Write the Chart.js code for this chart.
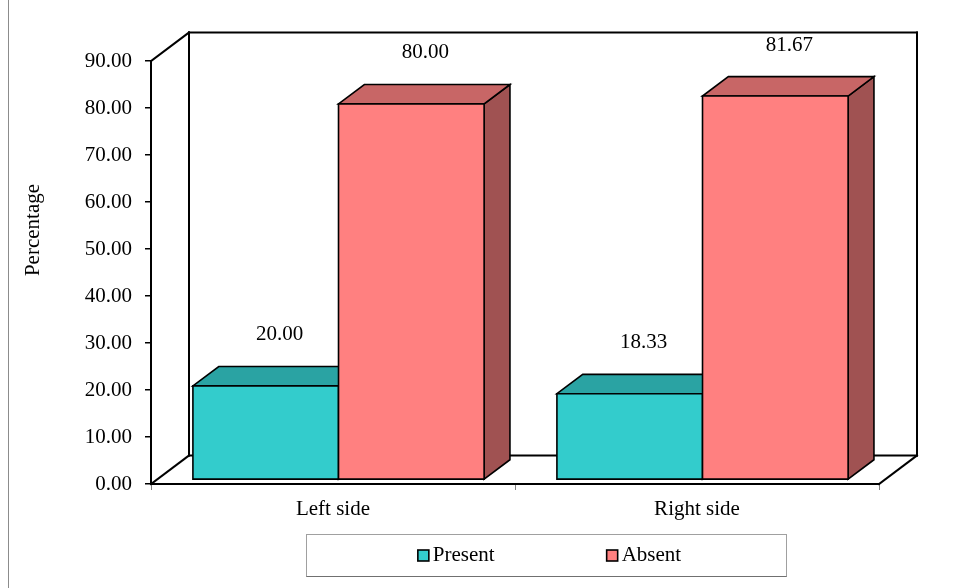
<!DOCTYPE html>
<html>
<head>
<meta charset="utf-8">
<script src="https://cdn.jsdelivr.net/npm/chart.js@4"></script>
<style>
  html, body { margin: 0; padding: 0; background: #ffffff; }
  canvas { display: block; }
</style>
</head>
<body>
<canvas id="chart" width="954" height="588"></canvas>
<script>
// ---- data ----
const categories = ['Left side', 'Right side'];
const seriesNames = ['Present', 'Absent'];
const presentValues = [20.00, 18.33];
const absentValues = [80.00, 81.67];
const yMin = 0, yMax = 90, yStep = 10;
const axisTitle = 'Percentage';

// ---- styling ----
const FONT = "'Liberation Serif', 'Times New Roman', serif";
const FONT_SIZE = 21;
const faceColors = [
  { front: '#33CCCC', top: '#2AA3A3', side: '#208585' },
  { front: '#FF8080', top: '#C86666', side: '#A05252' }
];
// depth of the box (walls / floor) in pixels, and where the bars sit inside it
const DEPTH = { dx: 38, dy: -28.5 };
const BAR_FRONT = 0.145;
const BAR_DEPTH = 0.68;

Chart.defaults.font.family = FONT;
Chart.defaults.font.size = FONT_SIZE;
Chart.defaults.color = '#000000';

function line(ctx, x1, y1, x2, y2) {
  ctx.beginPath();
  ctx.moveTo(x1, y1);
  ctx.lineTo(x2, y2);
  ctx.stroke();
}

function poly(ctx, pts, fill) {
  ctx.beginPath();
  ctx.moveTo(pts[0][0], pts[0][1]);
  for (let i = 1; i < pts.length; i++) ctx.lineTo(pts[i][0], pts[i][1]);
  ctx.closePath();
  ctx.fillStyle = fill;
  ctx.fill();
  ctx.stroke();
}

const box3d = {
  id: 'box3d',
  beforeDatasetsDraw(chart) {
    const { ctx, chartArea: a } = chart;
    const L = a.left, R = a.right, T = a.top, B = a.bottom;
    const dx = DEPTH.dx, dy = DEPTH.dy;
    ctx.save();
    ctx.strokeStyle = '#000000';
    ctx.lineWidth = 2;
    ctx.lineCap = 'square';
    // left wall
    line(ctx, L, T, L, B);
    line(ctx, L, T, L + dx, T + dy);
    line(ctx, L + dx, T + dy, L + dx, B + dy);
    // back wall
    line(ctx, L + dx, T + dy, R + dx, T + dy);
    line(ctx, R + dx, T + dy, R + dx, B + dy);
    // floor
    line(ctx, L, B, R, B);
    line(ctx, L, B, L + dx, B + dy);
    line(ctx, L + dx, B + dy, R + dx, B + dy);
    line(ctx, R, B, R + dx, B + dy);
    ctx.restore();
  },
  beforeDatasetDraw() {
    // the flat bars are replaced by the boxes drawn below
    return false;
  },
  afterDatasetsDraw(chart) {
    const ctx = chart.ctx;
    const ox = DEPTH.dx * BAR_FRONT, oy = DEPTH.dy * BAR_FRONT;
    const bdx = DEPTH.dx * BAR_DEPTH, bdy = DEPTH.dy * BAR_DEPTH;
    const metas = chart.data.datasets.map((_, i) => chart.getDatasetMeta(i));
    const labels = [];
    ctx.save();
    ctx.strokeStyle = '#000000';
    ctx.lineWidth = 1.6;
    ctx.lineJoin = 'miter';
    for (let i = 0; i < categories.length; i++) {
      metas.forEach((meta, d) => {
        const bar = meta.data[i];
        const p = bar.getProps(['x', 'y', 'base', 'width'], true);
        const x0 = p.x - p.width / 2 + ox, x1 = p.x + p.width / 2 + ox;
        const yt = p.y + oy, yb = p.base + oy;
        const c = faceColors[d];
        // side face
        poly(ctx, [[x1, yt], [x1 + bdx, yt + bdy], [x1 + bdx, yb + bdy], [x1, yb]], c.side);
        // top face
        poly(ctx, [[x0, yt], [x1, yt], [x1 + bdx, yt + bdy], [x0 + bdx, yt + bdy]], c.top);
        // front face
        poly(ctx, [[x0, yt], [x1, yt], [x1, yb], [x0, yb]], c.front);
        const v = chart.data.datasets[d].data[i];
        labels.push({ text: v.toFixed(2), x: (x0 + x1) / 2 + 14, y: yt - 51 });
      });
    }
    // value labels
    ctx.fillStyle = '#000000';
    ctx.font = FONT_SIZE + 'px ' + FONT;
    ctx.textAlign = 'center';
    ctx.textBaseline = 'middle';
    labels.forEach(l => ctx.fillText(l.text, l.x, l.y));
    ctx.restore();
  },
  afterDraw(chart) {
    const { ctx, chartArea: a } = chart;
    ctx.save();
    // outer frame line
    ctx.strokeStyle = '#8c8c8c';
    ctx.lineWidth = 1;
    line(ctx, 8.5, 0, 8.5, chart.height);

    // axis title
    ctx.fillStyle = '#000000';
    ctx.font = FONT_SIZE + 'px ' + FONT;
    ctx.textAlign = 'center';
    ctx.textBaseline = 'middle';
    ctx.translate(33, 230);
    ctx.rotate(-Math.PI / 2);
    ctx.fillText(axisTitle, 0, 0);
    ctx.setTransform(1, 0, 0, 1, 0, 0);

    // legend
    const box = { x: 306.5, y: 534.5, w: 480, h: 42 };
    ctx.strokeStyle = '#a0a0a0';
    ctx.lineWidth = 1;
    ctx.strokeRect(box.x, box.y, box.w, box.h);
    ctx.strokeStyle = '#707070';
    line(ctx, box.x, box.y + box.h, box.x + box.w, box.y + box.h);

    const sw = 11, gap = 4, spacing = 112;
    ctx.font = FONT_SIZE + 'px ' + FONT;
    const items = chart.data.datasets.map((ds, d) => ({
      label: ds.label, color: faceColors[d].front,
      w: sw + gap + ctx.measureText(ds.label).width
    }));
    const total = items.reduce((s, it) => s + it.w, 0) + spacing * (items.length - 1);
    let x = box.x + box.w / 2 + 3 - total / 2;
    const cy = box.y + box.h / 2;
    items.forEach(it => {
      ctx.fillStyle = it.color;
      ctx.fillRect(x, cy - sw / 2, sw, sw);
      ctx.strokeStyle = '#000000';
      ctx.lineWidth = 1.6;
      ctx.strokeRect(x, cy - sw / 2, sw, sw);
      ctx.fillStyle = '#000000';
      ctx.textAlign = 'left';
      ctx.textBaseline = 'middle';
      ctx.fillText(it.label, x + sw + gap, cy - 0.5);
      x += it.w + spacing;
    });
    ctx.restore();
  }
};

new Chart(document.getElementById('chart'), {
  type: 'bar',
  data: {
    labels: categories,
    datasets: [
      { label: seriesNames[0], data: presentValues, backgroundColor: faceColors[0].front },
      { label: seriesNames[1], data: absentValues, backgroundColor: faceColors[1].front }
    ]
  },
  options: {
    responsive: false,
    devicePixelRatio: 1,
    animation: false,
    layout: { padding: { top: 61, right: 75, bottom: 0, left: 0 } },
    datasets: { bar: { categoryPercentage: 0.8, barPercentage: 1.0 } },
    plugins: {
      legend: { display: false },
      tooltip: { enabled: false }
    },
    scales: {
      x: {
        grid: { offset: true, drawOnChartArea: false, tickLength: 6, color: '#808080', lineWidth: 1 },
        border: { display: false },
        ticks: { padding: 7, color: '#000000', font: { size: FONT_SIZE } },
        afterFit(scale) { scale.height = 104; }
      },
      y: {
        min: yMin,
        max: yMax,
        grid: { drawOnChartArea: false, tickLength: 6, color: '#000000', lineWidth: 1.5 },
        border: { display: false },
        ticks: {
          stepSize: yStep,
          padding: 13,
          color: '#000000',
          font: { size: FONT_SIZE },
          callback: v => Number(v).toFixed(2)
        },
        afterFit(scale) { scale.width = 151; }
      }
    }
  },
  plugins: [box3d]
});
</script>
</body>
</html>
